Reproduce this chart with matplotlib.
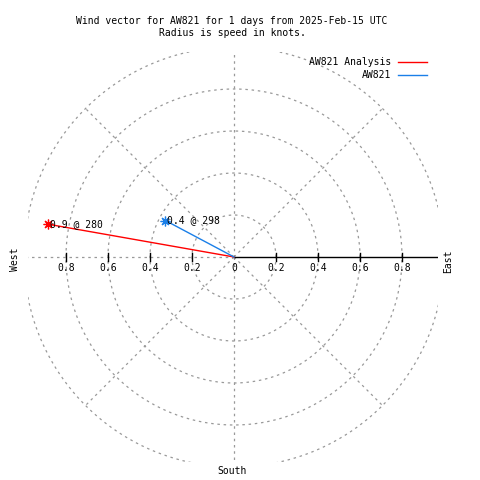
import numpy as np
import matplotlib.pyplot as plt

plt.rcParams['font.family'] = ['DejaVu Sans Mono']

# wind vectors
series_names = ['AW821 Analysis', 'AW821']
speeds = [0.9, 0.37]          # knots
directions = [280, 298]       # degrees, compass bearing
colors = ['#ff0000', '#1a7fe8']

rings = [0.2, 0.4, 0.6, 0.8, 1.0]
spokes = [45, 90, 135, 180, 225, 270, 315]
tick_vals = [0.2, 0.4, 0.6, 0.8]

title = 'Wind vector for AW821 for 1 days from 2025-Feb-15 UTC\nRadius is speed in knots.'

S = 210.0  # pixels per knot
fig = plt.figure(figsize=(4.8, 4.8), dpi=100)
ax = fig.add_axes([28 / 480, 18 / 480, 410 / 480, 410 / 480])
ax.set_xlim(-206 / S, 204 / S)
ax.set_ylim(-205 / S, 205 / S)
ax.set_aspect('equal')
ax.axis('off')

grid_kw = dict(color='#999999', lw=0.9, ls=(0, (2, 3)), zorder=1)
t = np.linspace(0, 2 * np.pi, 721)
for r in rings:
    ax.plot(r * np.cos(t), r * np.sin(t), **grid_kw)
for a in spokes:
    ax.plot([0, np.cos(np.radians(a))], [0, np.sin(np.radians(a))], **grid_kw)

# radial axis (east side solid)
ax.plot([0, 1.0], [0, 0], color='black', lw=1.0, zorder=2)
tick_h = 4 / S
for v in tick_vals:
    for sx in (-1, 1):
        ax.plot([sx * v, sx * v], [-tick_h, tick_h], color='black', lw=1.0, zorder=2)
        ax.text(sx * v, -11 / S, f'{v:.1f}', ha='center', va='center', fontsize=7, zorder=3)
ax.text(0, -11 / S, '0', ha='center', va='center', fontsize=7, zorder=3)

# vectors
for name, spd, d, c in zip(series_names, speeds, directions, colors):
    th = np.radians(90 - d)
    x, y = spd * np.cos(th), spd * np.sin(th)
    ax.plot([0, x], [0, y], color=c, lw=1.0, zorder=4, label=name)
    ax.plot([x], [y], ls='none', marker=(8, 2, 0), ms=7, mew=0.9, color=c, zorder=5)
    ax.text(x + 2 / S, y, f'{spd:.1f} @ {d}', ha='left', va='center', fontsize=7, zorder=6)

ax.text(-219 / S, -2 / S, 'West', rotation=90, ha='center', va='center', fontsize=7, clip_on=False)
ax.text(214 / S, -4 / S, 'East', rotation=90, ha='center', va='center', fontsize=7, clip_on=False)
ax.text(-2 / S, -214 / S, 'South', ha='center', va='center', fontsize=7, clip_on=False)

fig.text(232 / 480, 1 - 27 / 480, title, ha='center', va='center', fontsize=7, linespacing=1.35)

# legend
for i, (name, c) in enumerate(zip(series_names, colors)):
    yy = 1 - (62 + 13 * i) / 480
    fig.text(391 / 480, yy, name, ha='right', va='center', fontsize=7)
    fig.add_artist(plt.Line2D([398 / 480, 427 / 480], [yy, yy], color=c, lw=1.0,
                              transform=fig.transFigure))

fig.savefig('out.png', dpi=100)
